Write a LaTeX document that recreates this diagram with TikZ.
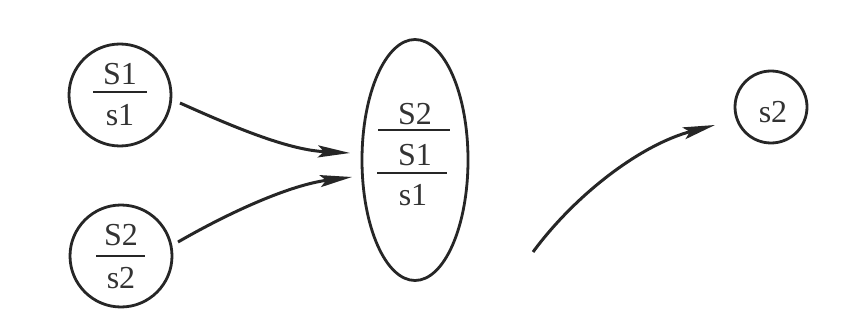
\documentclass[tikz,border=0pt]{standalone}
\usepackage{fontspec}
\setmainfont{Liberation Serif}
\usetikzlibrary{arrows.meta,shapes.geometric}
\begin{document}
\begin{tikzpicture}[x=1pt,y=-1pt,
  ring/.style={draw=black!85, line width=2.8pt, circle, inner sep=0pt},
  oval/.style={draw=black!85, line width=2.8pt, ellipse, inner sep=0pt},
  lbl/.style={font=\fontsize{32}{36}\selectfont, text=black!80, inner sep=0pt, anchor=base},
  bar/.style={draw=black!85, line width=2.8pt},
  conn/.style={draw=black!85, line width=3pt, -{Stealth[length=32pt,width=12pt,inset=6pt]}}]
\useasboundingbox[fill=white] (0,0) rectangle (842,323);
% nodes
\node[ring, minimum size=102pt] (c1) at (120,95) {};
\node[ring, minimum size=102pt] (c2) at (121,256) {};
\node[oval, minimum width=106pt, minimum height=241pt] (m) at (415,160) {};
\node[ring, minimum size=72pt] (c3) at (771,107) {};
% texts
\node[lbl] (c1t) at (120,85) {S1};
\node[lbl] (c1b) at (120,126) {s1};
\node[lbl] (c2t) at (121,245) {S2};
\node[lbl] (c2b) at (121,288) {s2};
\node[lbl] (mt) at (415,125) {S2};
\node[lbl] (mm) at (415,165) {S1};
\node[lbl] (mb) at (413,205) {s1};
\node[lbl] (c3t) at (773,123) {s2};
% fraction bars
\coordinate (b1l) at (93,92);  \coordinate (b1r) at (147,92);
\coordinate (b2l) at (96,256); \coordinate (b2r) at (145,256);
\coordinate (b3l) at (378,130); \coordinate (b3r) at (450,130);
\coordinate (b4l) at (377,173); \coordinate (b4r) at (447,173);
\draw[bar] (b1l) -- (b1r);
\draw[bar] (b2l) -- (b2r);
\draw[bar] (b3l) -- (b3r);
\draw[bar] (b4l) -- (b4r);
% connector ends
\coordinate (a1s) at (180,103); \coordinate (a1e) at (350,153);
\coordinate (a2s) at (178,242); \coordinate (a2e) at (352,177);
\coordinate (a3s) at (533,252); \coordinate (a3e) at (715,125);
\draw[conn] (a1s) .. controls (240,130) and (290,150) .. (a1e);
\draw[conn] (a2s) .. controls (230,212) and (290,185) .. (a2e);
\draw[conn] (a3s) .. controls (575,195) and (640,145) .. (a3e);
\end{tikzpicture}
\end{document}
